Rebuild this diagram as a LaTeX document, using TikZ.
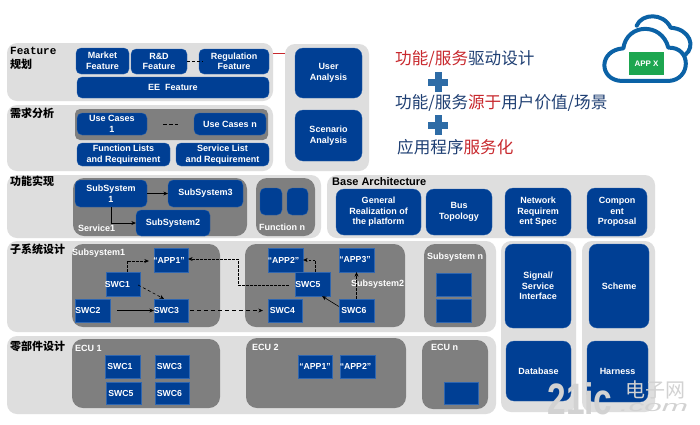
\documentclass[tikz,border=0pt]{standalone}
\usepackage{fontspec}
\setmainfont{Liberation Sans}
\newfontfamily\cjk{Noto Sans CJK SC}
\newfontfamily\monof{Liberation Mono}
\usetikzlibrary{arrows.meta,positioning}
\definecolor{ublue}{HTML}{003F94}
\definecolor{uedge}{HTML}{2F66B0}
\definecolor{upanel}{HTML}{DEDEDE}
\definecolor{udark}{HTML}{7F7F7F}
\definecolor{uink}{HTML}{1F3F73}
\definecolor{ured}{HTML}{C8282D}
\definecolor{uplus}{HTML}{2E6CA6}
\definecolor{ucloud}{HTML}{0B62A6}
\definecolor{ugreen}{HTML}{1DA650}
\definecolor{uwater}{HTML}{D2D2D2}
\newcommand{\bx}[7]{%
  \pgfmathsetmacro{\bw}{#4-#2}\pgfmathsetmacro{\bh}{#5-#3}%
  \pgfmathsetmacro{\cx}{(#4+#2)/2}\pgfmathsetmacro{\cy}{(#5+#3)/2}%
  \node[#6,minimum width=\bw pt,minimum height=\bh pt] (#1) at (\cx,\cy) {#7};}
\newcommand{\SH}[2]{\hspace*{#1pt}#2}
\tikzset{
  x=1pt,y=-1pt,
  panel/.style={fill=upanel,rounded corners=10pt,inner sep=0pt},
  darkp/.style={fill=udark,rounded corners=11pt,inner sep=0pt},
  ub/.style={fill=ublue,draw=uedge,line width=.3pt,rounded corners=5pt,inner sep=0pt,text=white,align=center,font=\fontsize{9}{10.5}\selectfont\bfseries},
  ubb/.style={ub,rounded corners=8pt},
  sq/.style={ub,rounded corners=0pt,font=\fontsize{8.7}{10}\selectfont\bfseries},
  lab/.style={text=white,inner sep=0pt,anchor=west,font=\fontsize{9}{10}\selectfont\bfseries},
  cn/.style={text=black,inner sep=0pt,anchor=west,font=\cjk\fontsize{11}{12}\selectfont\bfseries},
  big/.style={inner sep=0pt,anchor=west,text=uink,font=\cjk\fontsize{16.6}{18}\selectfont},
  tip/.style={-{Stealth[length=4.5pt,width=4pt]},black,line width=.6pt},
  sdash/.style={tip,dash pattern=on 2.5pt off 1.5pt},
  wm/.style={inner sep=0pt,text=uwater}
}
\begin{document}
\begin{tikzpicture}
\useasboundingbox (0,0) rectangle (700,424);
\fill[white] (0,0) rectangle (700,424);
% grey panels
\bx{pfeat}{7}{43}{273}{101}{panel}{}
\bx{preq}{7}{105}{273}{171}{panel}{}
\bx{pana}{285}{44}{369}{171}{panel}{}
\bx{pfun}{7}{175}{321}{238}{panel}{}
\bx{pbase}{327}{175}{655}{238}{panel}{}
\bx{psub}{7}{241}{496}{332}{panel}{}
\bx{pecu}{7}{336}{496}{414}{panel}{}
\bx{psig}{501}{241}{576}{412}{panel}{}
\bx{psch}{582}{241}{655}{412}{panel}{}
% dark panels
\bx{duc}{75}{109}{268}{140}{darkp,rounded corners=5pt}{}
\bx{dsv}{73}{178}{247}{236}{darkp}{}
\bx{dfn}{256}{178}{315}{236}{darkp}{}
\bx{ds1}{72}{244}{220}{327}{darkp}{}
\bx{ds2}{245}{244}{405}{327}{darkp}{}
\bx{dsn}{424}{244}{486}{327}{darkp}{}
\bx{de1}{72}{339}{220}{408}{darkp}{}
\bx{de2}{246}{338}{406}{408}{darkp}{}
\bx{den}{422}{340}{488}{409}{darkp}{}
% feature row
\bx{market}{76}{48}{129}{74}{ub}{Market\\Feature}
\bx{rd}{131}{49}{187}{74}{ub}{R\&D\\Feature}
\bx{reg}{199}{49}{269}{74}{ub}{Regulation\\Feature}
\bx{ee}{77}{77}{269}{98}{ub}{EE\ \ Feature}
\draw[black,line width=.6pt,dash pattern=on 3pt off 2pt] (rd.east) -- ([xshift=4pt]reg.west);
% requirements
\bx{uc1}{77}{113}{147}{135}{ub}{Use Cases\\1}
\bx{ucn}{194}{113}{266}{135}{ub}{Use Cases n}
\draw[black,line width=.6pt,dash pattern=on 3.5pt off 2.5pt,shorten <=16pt,shorten >=16pt] (uc1.east) -- (ucn.west);
\bx{fl}{77}{143}{170}{166}{ub}{Function Lists\\and Requirement}
\bx{sl}{176}{143}{269}{166}{ub}{Service List\\and Requirement}
% analysis
\bx{user}{295}{48}{362}{98}{ubb}{User\\Analysis}
\bx{scen}{295}{110}{362}{161}{ubb}{Scenario\\Analysis}
\coordinate (redA) at (273,53);
\coordinate (redB) at (285,53);
\draw[ured,line width=.7pt] (redA) -- (redB);
% function
\bx{s1}{75}{180}{147}{207}{ub}{SubSystem\\1}
\bx{s3}{168}{180}{243}{207}{ub}{SubSystem3}
\bx{s2}{136}{210}{210}{236}{ub}{SubSystem2}
\draw[tip] (s1.east) -- (s3.west);
\draw[tip] (s1.south) |- (s2.west);
\node[lab] (lsv) at (78,228) {Service1};
\bx{f1}{260}{188}{282}{215}{ub}{}
\bx{f2}{287}{188}{308}{215}{ub}{}
\node[lab] (lfn) at (259,227) {Function n};
% base architecture
\node[inner sep=0pt,anchor=west,font=\fontsize{11}{12}\selectfont\bfseries] (lba) at (332,182) {Base Architecture};
\bx{gen}{336}{189}{421}{235}{ubb}{General\\Realization of\\the platform}
\bx{bus}{426}{189}{492}{235}{ubb}{Bus\\Topology}
\bx{net}{505}{188}{571}{236}{ubb}{Network\\Requirem\\ent Spec}
\bx{comp}{587}{188}{647}{236}{ubb}{Compon\\ent\\Proposal}
\bx{sig}{505}{244}{571}{328}{ubb}{Signal/\\Service\\Interface}
\bx{sch}{589}{244}{649}{328}{ubb}{Scheme}
\bx{db}{506}{341}{571}{401}{ubb}{Database}
\bx{har}{587}{341}{648}{402}{ubb}{Harness}
% subsystem design
\bx{app1}{154}{248}{188}{272}{sq}{\SH{-4}{“APP1”}}
\bx{swc1}{106}{272}{140}{296}{sq}{\SH{-11}{SWC1}}
\bx{swc2}{75}{299}{110}{322}{sq}{\SH{-9}{SWC2}}
\bx{swc3}{154}{299}{188}{322}{sq}{\SH{-9}{SWC3}}
\bx{app2}{268}{248}{303}{272}{sq}{\SH{-4}{“APP2”}}
\bx{app3}{339}{248}{374}{272}{sq}{\SH{-3}{“APP3”}}
\bx{swc5}{295}{272}{330}{296}{sq}{\SH{-9}{SWC5}}
\bx{swc4}{268}{299}{302}{322}{sq}{\SH{-5}{SWC4}}
\bx{swc6}{339}{299}{374}{322}{sq}{\SH{-5}{SWC6}}
\bx{n1}{436}{273}{471}{296}{sq}{}
\bx{n2}{436}{299}{471}{322}{sq}{}
\node[lab] (ls1) at (72,253) {Subsystem1};
\node[lab] (ls2) at (351,284) {Subsystem2};
\node[lab] (lsn) at (427,257) {Subsystem n};
\draw[sdash] ([xshift=4pt]swc1.north) |- ([xshift=-5pt,yshift=-1pt]app1.west);
\draw[tip,dash pattern=on 3pt off 2.5pt] ([xshift=-2pt,yshift=-1pt]swc1.east) -- ([xshift=-7pt]swc3.north);
\draw[tip] ([xshift=7pt]swc2.east) -- (swc3.west);
\draw[tip,dash pattern=on 4pt off 3pt] ([xshift=2pt]swc3.east) -- ([xshift=-5pt]swc4.west);
\draw[sdash] ([xshift=-6pt,yshift=-1pt]swc5.west) -| (238,259) -- (app1.east |- 238,259);
\draw[sdash] ([xshift=3pt]swc5.north) |- (app2.east);
\draw[tip] ([yshift=4pt]swc6.west) -- ([xshift=-8pt]swc5.south east);
\draw[sdash] (swc6.north) -- (app3.south);
% ECU
\bx{e1}{105}{355}{140}{378}{sq}{\SH{-5}{SWC1}}
\bx{e3}{155}{355}{189}{378}{sq}{\SH{-5}{SWC3}}
\bx{e5}{106}{382}{141}{404}{sq}{\SH{-5}{SWC5}}
\bx{e6}{155}{382}{189}{404}{sq}{\SH{-5}{SWC6}}
\bx{ea1}{298}{355}{332}{378}{sq}{“APP1”}
\bx{ea2}{340}{355}{375}{378}{sq}{\SH{-4}{“APP2”}}
\bx{en}{444}{382}{478}{404}{sq}{}
\node[lab] (le1) at (75,348) {ECU 1};
\node[lab] (le2) at (252,347) {ECU 2};
\node[lab] (len) at (431,347) {ECU n};
% left labels
\node[inner sep=0pt,anchor=west,font=\monof\fontsize{11}{12}\selectfont\bfseries] (lf) at (10,50.5) {Feature};
\node[cn] (lgh) at (10,64) {规划};
\node[cn] (lxq) at (10,113) {需求分析};
\node[cn] (lgn) at (10,181) {功能实现};
\node[cn] (lzx) at (10,249) {子系统设计};
\node[cn] (llb) at (10,346) {零部件设计};
% slogan
\node[big] (t1) at (395,59) {\textcolor{ured}{功能/服务}驱动设计};
\node[big] (t2) at (395,103) {功能/服务\textcolor{ured}{源于}用户价值/场景};
\node[big] (t3) at (397,147) {应用程序\textcolor{ured}{服务化}};
\fill[uplus] (428,78.5) rectangle (448,86);
\fill[uplus] (434.5,72) rectangle (441.5,92);
\fill[uplus] (428,121.5) rectangle (448,129);
\fill[uplus] (434.5,115) rectangle (441.5,135);
% cloud
\begin{scope}[shift={(590,5)},x=.3333pt,y=-.3333pt,draw=ucloud,line width=4pt,line cap=round,line join=round]
\draw (140,62) .. controls (155,25) and (220,22) .. (242,68)
      .. controls (300,72) and (318,125) .. (285,150);
\draw (95,228) .. controls (25,225) and (25,135) .. (100,130)
      .. controls (110,55) and (215,50) .. (235,128)
      .. controls (305,125) and (305,225) .. (235,228) -- cycle;
\end{scope}
\bx{appx}{629}{52}{664}{75}{fill=ugreen,inner sep=0pt,text=white,font=\fontsize{8}{9}\selectfont\bfseries}{APP X}
% watermark
\node[wm,anchor=center,font=\fontsize{44}{44}\selectfont\bfseries,xscale=.76] (w1) at (580,399) {21ic};
\node[wm,anchor=center,font=\cjk\fontsize{20}{20}\selectfont] (w2) at (655,390) {电子网};
\node[wm,anchor=center,font=\fontsize{15}{15}\selectfont\itshape,xscale=2.1] (w3) at (654,408) {.com};
\end{tikzpicture}
\end{document}
